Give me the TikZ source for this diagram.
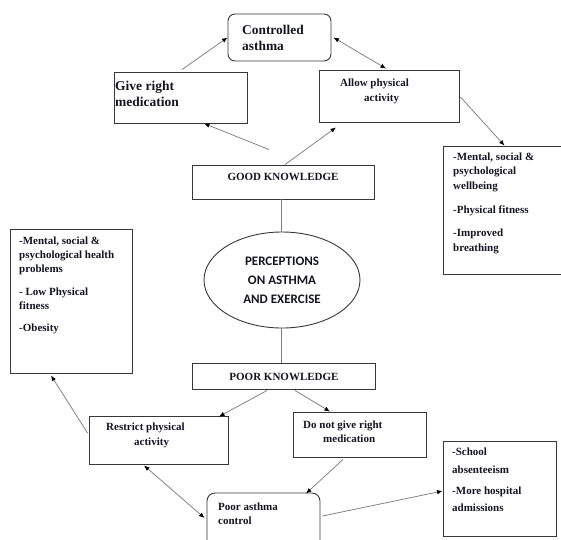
\documentclass[tikz,border=0pt]{standalone}
\usepackage{fontspec}
\setmainfont{Liberation Serif}
\newfontfamily\calib{Carlito}
\usetikzlibrary{arrows.meta,calc,shapes.geometric}
\definecolor{boxc}{RGB}{55,55,55}
\definecolor{linec}{RGB}{125,125,125}
\definecolor{txtc}{RGB}{20,20,35}
\begin{document}
\begin{tikzpicture}[x=1pt,y=-1pt,
 box/.style={draw=boxc, line width=0.9pt, inner sep=0pt, rectangle},
 rbox/.style={box, rounded corners=7pt},
 txt/.style={inner sep=0pt, align=left, anchor=north west, text=txtc, font=\bfseries\fontsize{11}{14.5}\selectfont},
 captxt/.style={inner sep=0pt, anchor=base, text=txtc, font=\bfseries\fontsize{11}{13}\selectfont},
 conn/.style={draw=linec, line width=0.75pt},
 arr/.style={conn, -{Latex[length=5.5pt,width=4.5pt,color=black]}},
 darr/.style={conn, {Latex[length=5.5pt,width=4.5pt,color=black]}-{Latex[length=5.5pt,width=4.5pt,color=black]}}
]
\useasboundingbox (0,0) rectangle (561,539);
% boxes
\node[rbox, minimum width=103pt, minimum height=47pt] (ctrl) at (279.5,37.5) {};
\node[box, minimum width=133pt, minimum height=51pt] (med) at (180.5,97.5) {};
\node[box, minimum width=140pt, minimum height=52pt] (allow) at (389,96) {};
\node[box, minimum width=123pt, minimum height=128pt] (well) at (504.5,210) {};
\node[box, minimum width=182pt, minimum height=34pt] (good) at (283,182) {};
\node[ellipse, draw=boxc, line width=0.9pt, inner sep=0pt, minimum width=156pt, minimum height=96pt,
      align=center, text=txtc, font=\calib\bfseries\fontsize{13}{19}\selectfont] (ell) at (282,280)
      {PERCEPTIONS\\ON ASTHMA\\AND EXERCISE};
\node[box, minimum width=122pt, minimum height=144pt] (left) at (71,301) {};
\node[box, minimum width=183pt, minimum height=26pt] (poor) at (283.5,376) {};
\node[box, minimum width=139pt, minimum height=48pt] (restrict) at (158.5,440) {};
\node[box, minimum width=133pt, minimum height=45pt] (donot) at (359.5,434.5) {};
\node[rbox, rounded corners=8pt, minimum width=113pt, minimum height=67pt] (pac) at (263.5,526.5) {};
\node[box, minimum width=113pt, minimum height=95pt] (school) at (499.5,488.5) {};
% texts
\node[txt, font=\bfseries\fontsize{13.4}{16}\selectfont] (tctrl) at (242,24.5) {Controlled\\asthma};
\node[txt, font=\bfseries\fontsize{13.5}{16}\selectfont] (tmed) at (115,80.5) {Give right\\medication};
\node[txt, font=\bfseries\fontsize{11}{15}\selectfont] (tallow) at (340,78.6) {Allow physical\\\hspace*{24pt}activity};
\node[txt] (twell) at (453,152.5) {-Mental, social \&\\psychological\\wellbeing\\[9.5pt]-Physical fitness\\[9pt]-Improved\\breathing};
\node[captxt] (tgood) at (283,180.7) {GOOD KNOWLEDGE};
\node[txt, font=\bfseries\fontsize{11}{14}\selectfont] (tleft) at (19,236.5) {-Mental, social \&\\psychological health\\problems\\[9pt]- Low Physical\\fitness\\[8pt]-Obesity};
\node[captxt] (tpoor) at (284,380.5) {POOR KNOWLEDGE};
\node[txt, font=\bfseries\fontsize{11}{15}\selectfont] (trestrict) at (106,422.6) {Restrict physical\\\hspace*{28pt}activity};
\node[txt, font=\bfseries\fontsize{11}{14}\selectfont] (tdonot) at (303,420.6) {Do not give right\\\hspace*{20pt}medication};
\node[txt, font=\bfseries\fontsize{11}{14}\selectfont] (tpac) at (218,502.5) {Poor asthma\\control};
\node[txt, font=\bfseries\fontsize{11}{17.5}\selectfont] (tschool) at (452,448) {-School\\absenteeism\\[3.5pt]-More hospital\\admissions};
% connectors
\draw[arr] ($(med.north)+(1.5,-2)$) -- (ctrl.west);
\draw[darr] ($(ctrl.east)+(2,0)$) -- ($(allow.north)+(-3,-1)$);
\draw[arr] ($(allow.east)+(1,1)$) -- (well.north);
\draw[arr] ($(good.north)+(-14,-15)$) -- ($(med.south)+(23.5,0)$);
\draw[arr] ($(good.north)+(2,0)$) -- ($(allow.south)+(-53,5)$);
\draw[conn] ($(good.south)+(-2,0)$) -- ($(ell.north)+(-1,0)$);
\draw[conn] ($(ell.south)+(-1,0)$) -- ($(poor.north)+(-2.5,0)$);
\draw[arr] ($(poor.south)+(-16.5,1)$) -- ($(restrict.north)+(60.5,1)$);
\draw[arr] ($(poor.south)+(11.5,1)$) -- ($(donot.north)+(-29.5,0)$);
\draw[arr] ($(restrict.west)+(-1,-7)$) -- ($(left.south)+(-20,2)$);
\draw[darr] ($(restrict.south)+(-14.5,1)$) -- ($(pac.west)+(-2,-8.5)$);
\draw[arr] ($(donot.south)+(-16.5,2)$) -- ($(pac.north)+(42.5,1)$);
\draw[arr] ($(pac.east)+(2,-10.5)$) -- ($(school.west)+(0,2.5)$);
\end{tikzpicture}
\end{document}
